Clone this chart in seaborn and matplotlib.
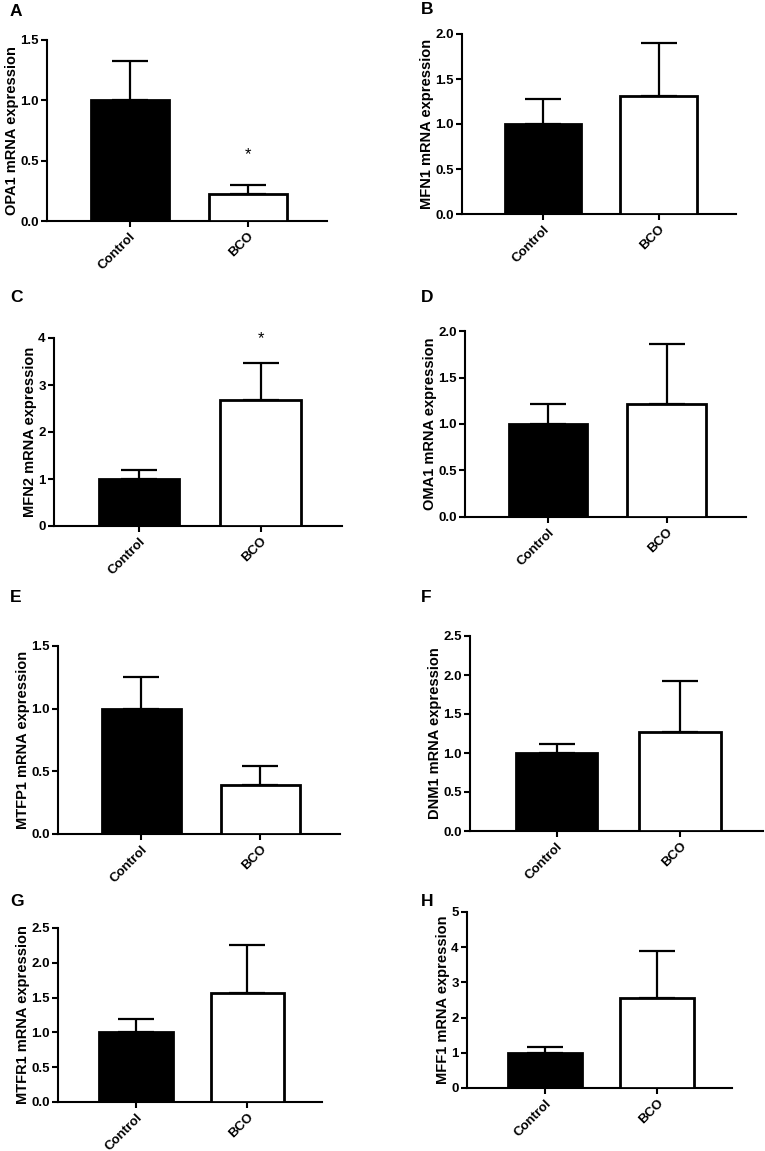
import matplotlib
matplotlib.use("Agg")
import matplotlib.pyplot as plt
import seaborn as sns
from matplotlib.ticker import FormatStrFormatter, MultipleLocator

groups = ["Control", "BCO"]

genes = ["OPA1", "MFN1", "MFN2", "OMA1", "MTFP1", "DNM1", "MTFR1", "MFF1"]
panel_letters = ["A", "B", "C", "D", "E", "F", "G", "H"]

# bar heights (mean) and top of the error bar for each gene: [Control, BCO]
means = {
    "OPA1": [1.00, 0.22],
    "MFN1": [1.00, 1.31],
    "MFN2": [1.00, 2.68],
    "OMA1": [1.00, 1.21],
    "MTFP1": [1.00, 0.39],
    "DNM1": [1.00, 1.27],
    "MTFR1": [1.00, 1.56],
    "MFF1": [1.00, 2.56],
}
err_tops = {
    "OPA1": [1.33, 0.30],
    "MFN1": [1.28, 1.90],
    "MFN2": [1.20, 3.46],
    "OMA1": [1.21, 1.86],
    "MTFP1": [1.25, 0.54],
    "DNM1": [1.12, 1.92],
    "MTFR1": [1.19, 2.26],
    "MFF1": [1.16, 3.88],
}
# significance stars: gene -> (group index, y)
stars = {"OPA1": (1, 0.55), "MFN2": (1, 3.98)}

y_max = {"OPA1": 1.5, "MFN1": 2.0, "MFN2": 4, "OMA1": 2.0,
         "MTFP1": 1.5, "DNM1": 2.5, "MTFR1": 2.5, "MFF1": 5}
y_step = {"OPA1": 0.5, "MFN1": 0.5, "MFN2": 1, "OMA1": 0.5,
          "MTFP1": 0.5, "DNM1": 0.5, "MTFR1": 0.5, "MFF1": 1}

# axes boxes in pixels: left, top, right, bottom
boxes = {
    "OPA1": (47, 40, 327, 221),
    "MFN1": (462, 34, 736, 214),
    "MFN2": (54, 338, 342, 526),
    "OMA1": (465, 331, 746, 517),
    "MTFP1": (58, 646, 340, 834),
    "DNM1": (470, 636, 763, 831),
    "MTFR1": (58, 928, 322, 1102),
    "MFF1": (467, 912, 732, 1088),
}
letter_pos = {"A": (10, 11), "B": (421, 9), "C": (10, 297), "D": (421, 297),
              "E": (10, 598), "F": (421, 598), "G": (10, 902), "H": (421, 902)}

W, H = 765, 1151

sns.set_style("ticks")
plt.rcParams["font.family"] = ["Liberation Sans", "DejaVu Sans"]
plt.rcParams["font.weight"] = "bold"
plt.rcParams["axes.labelweight"] = "bold"
for key in ["text.color", "axes.labelcolor", "xtick.color", "ytick.color",
            "axes.edgecolor"]:
    plt.rcParams[key] = "black"

fig = plt.figure(figsize=(W / 100, H / 100), dpi=100)

for gene, letter in zip(genes, panel_letters):
    l, t, r, b = boxes[gene]
    ax = fig.add_axes([l / W, 1 - b / H, (r - l) / W, (b - t) / H])

    sns.barplot(x=groups, y=means[gene], hue=groups, palette=["black", "white"],
                edgecolor="black", linewidth=2, width=0.66, legend=False,
                ax=ax, zorder=3)
    upper = [top - m for top, m in zip(err_tops[gene], means[gene])]
    ax.errorbar(range(len(groups)), means[gene], yerr=[[0, 0], upper],
                fmt="none", ecolor="black", elinewidth=1.6, capsize=13,
                capthick=1.6, zorder=2)

    if gene in stars:
        gi, sy = stars[gene]
        ax.text(gi, sy, "*", ha="center", va="center", fontsize=12,
                fontweight="normal")

    ax.set_xlim(-0.7, 1.67)
    ax.set_ylim(0, y_max[gene])
    ax.yaxis.set_major_locator(MultipleLocator(y_step[gene]))
    if y_step[gene] < 1:
        ax.yaxis.set_major_formatter(FormatStrFormatter("%.1f"))
    else:
        ax.yaxis.set_major_formatter(FormatStrFormatter("%d"))

    ax.set_ylabel(f"{gene} mRNA expression", fontsize=10.5, labelpad=1)
    ax.set_xlabel("")
    ax.tick_params(axis="both", width=1.5, length=4.5, labelsize=9.5, pad=1.5)
    ax.tick_params(axis="x", pad=2)
    for lab in ax.get_xticklabels():
        lab.set_rotation(45)
        lab.set_ha("right")
        lab.set_rotation_mode("anchor")
        lab.set_fontsize(9.5)
    for side in ["left", "bottom"]:
        ax.spines[side].set_linewidth(1.5)
    sns.despine(ax=ax)

    lx, ly = letter_pos[letter]
    fig.text(lx / W, 1 - ly / H, letter, fontsize=12.5, fontweight="bold",
             ha="left", va="center")

fig.savefig("out.png", dpi=100, facecolor="white")
